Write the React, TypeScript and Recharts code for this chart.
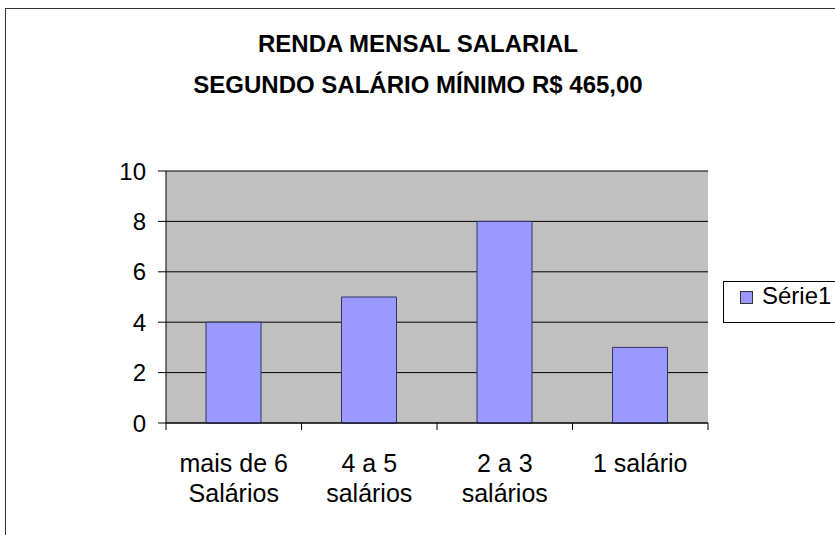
import { Bar, BarChart, CartesianGrid, Customized, Legend, XAxis, YAxis } from 'recharts';

const categories = ['mais de 6|Salários', '4 a 5|salários', '2 a 3|salários', '1 salário'];
const serie1 = [4, 5, 8, 3];
const yTicks = [0, 2, 4, 6, 8, 10];
const titleLines = ['RENDA MENSAL SALARIAL', 'SEGUNDO SALÁRIO MÍNIMO R$ 465,00'];
const seriesName = 'Série1';

const data = categories.map((c, i) => ({ name: c, value: serie1[i] }));

const FONT = '"Liberation Sans", Arial, sans-serif';

function XTick(props: any) {
  const { x, y, payload, index, visibleTicksCount } = props;
  const half = payload.offset || 0;
  const lines = String(payload.value).split('|');
  return (
    <g>
      <line x1={x - half} x2={x - half} y1={y - 8} y2={y - 1} stroke="#000" />
      {index === visibleTicksCount - 1 && (
        <line x1={x + half} x2={x + half} y1={y - 8} y2={y - 1} stroke="#000" />
      )}
      {lines.map((l, i) => (
        <text key={i} x={x} y={y + 41 + i * 30} textAnchor="middle" fontSize={25} fill="#000" fontFamily={FONT}>
          {l}
        </text>
      ))}
    </g>
  );
}

function Title() {
  return (
    <g>
      {titleLines.map((t, i) => (
        <text key={i} x={418} y={52 + i * 41} textAnchor="middle" fontSize={24} fontWeight="bold" fill="#000" fontFamily={FONT}>
          {t}
        </text>
      ))}
    </g>
  );
}

function LegendBox() {
  return (
    <div
      style={{
        border: '1px solid #000',
        background: '#fff',
        width: 130,
        height: 42,
        boxSizing: 'border-box',
        display: 'flex',
        alignItems: 'flex-start',
        fontFamily: FONT,
        fontSize: 24,
      }}
    >
      <span style={{ display: 'inline-block', width: 11, height: 11, background: '#9999ff', border: '1px solid #333', marginLeft: 16, marginRight: 9, marginTop: 9 }} />
      {seriesName}
    </div>
  );
}

export default function App() {
  return (
    <div style={{ position: 'absolute', left: 0, top: 0, width: 835, height: 535, overflow: 'hidden', background: '#fff' }}>
      <div style={{ position: 'absolute', left: 5, top: 8, width: 900, height: 600, border: '1px solid #333' }} />
      <div style={{ position: 'absolute', left: 0, top: 0 }}>
        <BarChart width={835} height={535} data={data} margin={{ top: 171, right: 15, bottom: 0, left: 0 }}>
          <CartesianGrid vertical={false} stroke="#000" fill="#c0c0c0" fillOpacity={1} />
          <XAxis
            dataKey="name"
            height={112}
            axisLine={{ stroke: '#000' }}
            tickLine={false}
            interval={0}
            tick={<XTick />}
          />
          <YAxis
            width={166}
            domain={[0, 10]}
            ticks={yTicks}
            axisLine={{ stroke: '#000' }}
            tickLine={{ stroke: '#000' }}
            tickSize={8}
            tickMargin={12}
            tick={{ fontSize: 24, fill: '#000', fontFamily: FONT }}
          />
          <YAxis yAxisId="r" orientation="right" width={0} tick={false} tickLine={false} axisLine={{ stroke: '#808080' }} />
          <Legend
            layout="vertical"
            align="right"
            verticalAlign="middle"
            width={112}
            wrapperStyle={{ left: 723, top: 281, right: 'auto' }}
            content={<LegendBox />}
          />
          <Bar dataKey="value" name={seriesName} fill="#9999ff" stroke="#333366" barSize={55} isAnimationActive={false} />
          <Customized component={<Title />} />
        </BarChart>
      </div>
    </div>
  );
}
